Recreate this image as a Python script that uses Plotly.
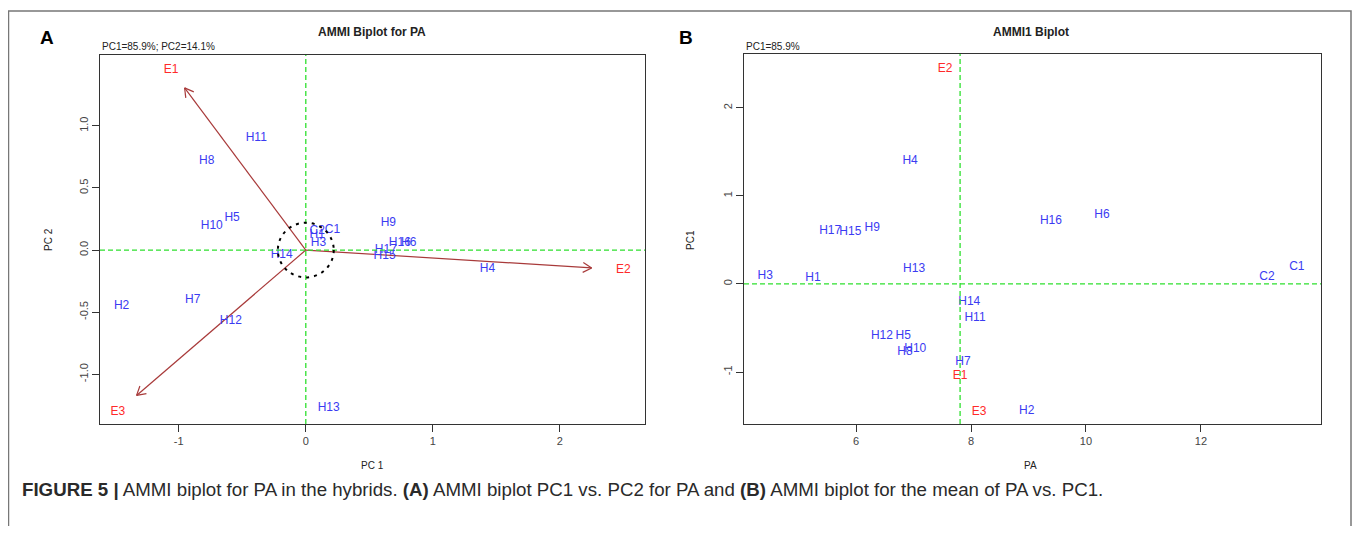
import numpy as np
import plotly.graph_objects as go

OFF = 8  # page body margin shifts the figure by this many pixels
W, H = 1360 - OFF, 534 - 2 * OFF

# ---- panel A: AMMI biplot PC1 vs PC2 ----
gen_a = ["C1", "C2", "H1", "H2", "H3", "H4", "H5", "H6", "H7", "H8", "H9",
         "H10", "H11", "H12", "H13", "H14", "H15", "H16", "H17"]
gen_pc1_a = [0.21, 0.09, 0.09, -1.45, 0.10, 1.43, -0.58, 0.81, -0.89, -0.78, 0.65,
             -0.74, -0.39, -0.59, 0.18, -0.19, 0.62, 0.74, 0.63]
gen_pc2_a = [0.16, 0.15, 0.12, -0.45, 0.06, -0.15, 0.26, 0.06, -0.40, 0.72, 0.22,
             0.19, 0.90, -0.57, -1.27, -0.04, -0.05, 0.06, 0.00]
env_a = ["E1", "E2", "E3"]
env_pc1_a = [-1.06, 2.50, -1.48]
env_pc2_a = [1.45, -0.16, -1.30]

# ---- panel B: AMMI1 biplot, mean PA vs PC1 ----
gen_b = ["C1", "C2", "H1", "H2", "H3", "H4", "H5", "H6", "H7", "H8", "H9",
         "H10", "H11", "H12", "H13", "H14", "H15", "H16", "H17"]
gen_pa_b = [13.67, 13.15, 5.25, 8.97, 4.42, 6.94, 6.82, 10.28, 7.86, 6.85, 6.28,
            7.03, 8.07, 6.45, 7.01, 7.97, 5.90, 9.39, 5.55]
gen_pc1_b = [0.19, 0.08, 0.07, -1.44, 0.09, 1.40, -0.59, 0.78, -0.89, -0.77, 0.63,
             -0.74, -0.39, -0.59, 0.17, -0.20, 0.59, 0.72, 0.60]
env_b = ["E1", "E2", "E3"]
env_pa_b = [7.81, 7.55, 8.14]
env_pc1_b = [-1.05, 2.44, -1.45]
mean_pa = 7.81

# pixel boxes of the two plot areas (left, top, right, bottom), screen pixels
box_a = (100, 55, 645, 424)
box_b = (744, 54, 1321, 424)
rng_ax, rng_ay = [-1.62, 2.67], [-1.40, 1.57]
rng_bx, rng_by = [4.05, 14.09], [-1.59, 2.61]

BLUE = "#3b3bf2"
RED = "#ff2a2a"
GREEN = "#2ee02e"
BROWN = "#a83a3a"
FONT = "Liberation Sans, Arial, sans-serif"


def px(x):
    return (x - OFF) / W


def py(y):
    return 1 - (y - OFF) / H


def dom(box):
    l, t, r, b = box
    return [px(l), px(r)], [py(b), py(t)]


fig = go.Figure()

# arrows from origin to 0.9 * environment scores
sx = (box_a[2] - box_a[0]) / (rng_ax[1] - rng_ax[0])
sy = (box_a[3] - box_a[1]) / (rng_ay[1] - rng_ay[0])
ax_x, ax_y = [], []
for ex, ey in zip(env_pc1_a, env_pc2_a):
    tx, ty = 0.9 * ex, 0.9 * ey
    ax_x += [0, tx, None]
    ax_y += [0, ty, None]
    u = np.array([tx * sx, ty * sy])
    u = u / np.linalg.norm(u)
    for a in (np.pi / 6, -np.pi / 6):
        rot = np.array([u[0] * np.cos(a) - u[1] * np.sin(a),
                        u[0] * np.sin(a) + u[1] * np.cos(a)])
        ax_x += [tx, tx - 10 * rot[0] / sx, None]
        ax_y += [ty, ty - 10 * rot[1] / sy, None]

fig.add_trace(go.Scatter(x=ax_x, y=ax_y, mode="lines",
                         line=dict(color=BROWN, width=1.2),
                         hoverinfo="skip", xaxis="x", yaxis="y"))
fig.add_trace(go.Scatter(x=gen_pc1_a, y=gen_pc2_a, text=gen_a, mode="text",
                         textfont=dict(color=BLUE, size=12, family=FONT),
                         xaxis="x", yaxis="y"))
fig.add_trace(go.Scatter(x=env_pc1_a, y=env_pc2_a, text=env_a, mode="text",
                         textfont=dict(color=RED, size=12, family=FONT),
                         xaxis="x", yaxis="y"))

fig.add_trace(go.Scatter(x=gen_pa_b, y=gen_pc1_b, text=gen_b, mode="text",
                         textfont=dict(color=BLUE, size=12, family=FONT),
                         xaxis="x2", yaxis="y2"))
fig.add_trace(go.Scatter(x=env_pa_b, y=env_pc1_b, text=env_b, mode="text",
                         textfont=dict(color=RED, size=12, family=FONT),
                         xaxis="x2", yaxis="y2"))

axis_style = dict(showline=True, linecolor="#333", linewidth=1, mirror=True,
                  ticks="outside", ticklen=7, tickcolor="#333", showgrid=False,
                  zeroline=False, tickfont=dict(size=11, color="#444", family=FONT))

dxa, dya = dom(box_a)
dxb, dyb = dom(box_b)
fig.update_layout(
    width=W, height=H, margin=dict(l=0, r=0, t=0, b=0),
    paper_bgcolor="white", plot_bgcolor="white", showlegend=False,
    xaxis=dict(domain=dxa, range=rng_ax, tickvals=[-1, 0, 1, 2],
               ticktext=["-1", "0", "1", "2"], anchor="y", **axis_style),
    yaxis=dict(domain=dya, range=rng_ay, tickvals=[-1, -0.5, 0, 0.5, 1],
               ticktext=["-1.0", "-0.5", "0.0", "0.5", "1.0"], tickangle=-90,
               anchor="x", **axis_style),
    xaxis2=dict(domain=dxb, range=rng_bx, tickvals=[6, 8, 10, 12], anchor="y2", **axis_style),
    yaxis2=dict(domain=dyb, range=rng_by, tickvals=[-1, 0, 1, 2],
                ticktext=["-1", "0", "1", "2"], tickangle=-90,
                anchor="x2", **axis_style),
)

dash = "5px,3px"
fig.add_shape(type="line", xref="x", yref="y domain", x0=0, x1=0, y0=0, y1=1,
              line=dict(color=GREEN, width=1.3, dash=dash))
fig.add_shape(type="line", xref="x domain", yref="y", x0=0, x1=1, y0=0, y1=0,
              line=dict(color=GREEN, width=1.3, dash=dash))
fig.add_shape(type="line", xref="x2", yref="y2 domain", x0=mean_pa, x1=mean_pa, y0=0, y1=1,
              line=dict(color=GREEN, width=1.3, dash=dash))
fig.add_shape(type="line", xref="x2 domain", yref="y2", x0=0, x1=1, y0=0, y1=0,
              line=dict(color=GREEN, width=1.3, dash=dash))
fig.add_shape(type="circle", xref="x", yref="y", x0=-0.22, x1=0.22, y0=-0.22, y1=0.22,
              line=dict(color="black", width=2, dash="3px,5px"))

# outer frame (open at the bottom)
fl, fr, ft = px(8.5), px(1351), py(11)
fig.add_shape(type="path", xref="paper", yref="paper",
              path=f"M {fl},0 L {fl},{ft} L {fr},{ft} L {fr},0",
              line=dict(color="#777", width=1.5))


def txt(x, y, s, size=11, color="#222", angle=0, xanchor="center"):
    fig.add_annotation(x=px(x), y=py(y), xref="paper", yref="paper", text=s,
                       showarrow=False, textangle=angle, xanchor=xanchor, yanchor="middle",
                       font=dict(size=size, color=color, family=FONT))


txt(372, 32, "<b>AMMI Biplot for PA</b>", size=12)
txt(1031, 32, "<b>AMMI1 Biplot</b>", size=12)
txt(100, 47, "PC1=85.9%; PC2=14.1%", size=10, xanchor="left")
txt(744, 47, "PC1=85.9%", size=10, xanchor="left")
txt(372, 465, "PC 1", size=10)
txt(1031, 465, "PA", size=10)
txt(48, 240, "PC 2", size=10, angle=-90)
txt(690, 240, "PC1", size=10, angle=-90)
txt(47, 37, "<b>A</b>", size=19, color="black")
txt(686, 37, "<b>B</b>", size=19, color="black")
txt(20, 489,
    "<b>FIGURE 5 |</b> AMMI biplot for PA in the hybrids. <b>(A)</b> AMMI biplot PC1 vs. PC2 "
    "for PA and <b>(B)</b> AMMI biplot for the mean of PA vs. PC1.",
    size=18.7, color="#2a2a2a", xanchor="left")

fig.write_html("out.html")
